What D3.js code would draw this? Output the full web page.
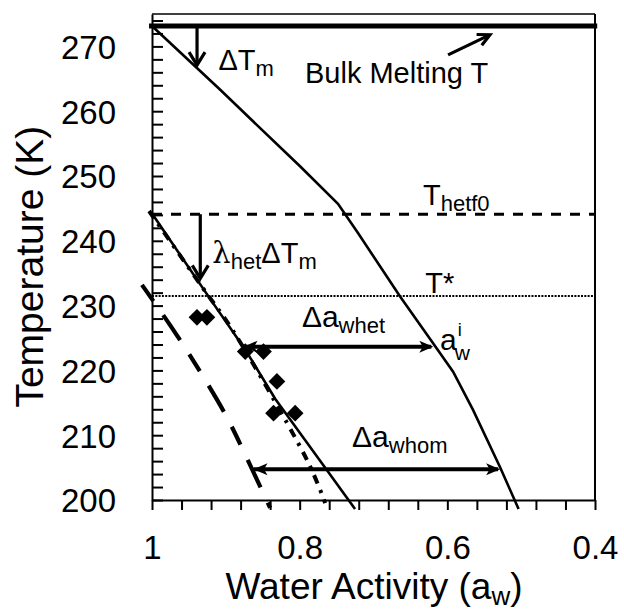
<!DOCTYPE html>
<html><head><meta charset="utf-8">
<script src="https://cdn.jsdelivr.net/npm/d3@7"></script>
<style>body{margin:0;background:#fff}</style>
</head><body>
<svg id="c" width="624" height="612" xmlns="http://www.w3.org/2000/svg"></svg>
<script>
// ---------- data ----------
const meltA = [1, 0.9076, 0.7995, 0.7481, 0.721, 0.664, 0.6193, 0.5922, 0.5652, 0.5287, 0.5035];
const meltT = [273.15, 263.3, 251.5, 245.7, 241.2, 231.4, 224.2, 219.8, 213.9, 205.1, 198.6];
const hetA = [1, 0.921, 0.8737, 0.833, 0.763, 0.725];
const hetT = [244.2, 231.0, 223.2, 215.6, 204.6, 198.6];
const lamA = [1.004, 0.9323, 0.8896, 0.7993, 0.7835, 0.7686, 0.7655];
const lamT = [244.6, 232.9, 226.0, 208.2, 204.6, 200.5, 199.5];
const homA = [1.0136, 0.9685, 0.9346, 0.8995, 0.871, 0.840];
const homT = [233.2, 225.8, 219.75, 212.96, 206.33, 198.77];
const obsA = [0.9391, 0.9256, 0.8737, 0.849, 0.8308, 0.8354, 0.8061];
const obsT = [228.2, 228.2, 222.9, 222.9, 218.3, 213.4, 213.4];
const bulkT = 273.15, hetf0T = 244.1, starT = 231.5;
const xTickVals = d3.range(0, 16).map(i => +(1 - i * 0.04).toFixed(2));
const yTickVals = d3.range(200, 275, 2);

// ---------- setup ----------
const svg = d3.select('#c');
svg.append('rect').attr('width', 624).attr('height', 612).attr('fill', '#fff');
const x = d3.scaleLinear().domain([1, 0.4]).range([152, 595]);
const y = d3.scaleLinear().domain([200, 275]).range([500, 14]);
const FONT = '"Liberation Sans", Arial, Helvetica, sans-serif';
svg.attr('font-family', FONT);

// frame (top & right)
svg.append('line').attr('x1', x(1)).attr('x2', x(0.4)).attr('y1', y(275)).attr('y2', y(275))
  .attr('stroke', '#000').attr('stroke-width', 1.5);
svg.append('line').attr('x1', x(0.4)).attr('x2', x(0.4)).attr('y1', y(275)).attr('y2', y(200))
  .attr('stroke', '#000').attr('stroke-width', 2);

// axes
const yAxis = d3.axisLeft(y).tickValues(yTickVals).tickSizeInner(-11).tickSizeOuter(0).tickPadding(36)
  .tickFormat(d => d % 10 === 0 ? d : '');
const gy = svg.append('g').attr('transform', `translate(${x(1)},0)`).call(yAxis);
const xAxis = d3.axisBottom(x).tickValues(xTickVals).tickSizeInner(10).tickSizeOuter(0).tickPadding(26)
  .tickFormat(d => { const r = Math.round(d * 10); return (Math.abs(d * 10 - r) < 1e-6 && r % 2 === 0) ? String(+d.toFixed(1)) : ''; });
const gx = svg.append('g').attr('transform', `translate(0,${y(200)})`).call(xAxis);
[gx, gy].forEach(g => {
  g.select('.domain').attr('stroke-width', 2);
  g.selectAll('.tick line').attr('stroke-width', 2);
  g.selectAll('.tick text').attr('font-size', 33).attr('font-family', FONT).attr('fill', '#000');
});
gy.selectAll('.tick text').attr('dy', '0.36em');

// axis titles
svg.append('text').attr('transform', `translate(43,${y(236)}) rotate(-90)`).attr('text-anchor', 'middle')
  .attr('font-size', 39).text('Temperature (K)');
const xt = svg.append('text').attr('x', 374).attr('y', 599).attr('text-anchor', 'middle').attr('font-size', 37);
xt.append('tspan').text('Water Activity (a');
xt.append('tspan').text('w').attr('font-size', 26).attr('dy', 6);
xt.append('tspan').text(')').attr('dy', -6);

// ---------- lines ----------
const line = d3.line().x(d => x(d[0])).y(d => y(d[1]));
const smooth = d3.line().x(d => x(d[0])).y(d => y(d[1])).curve(d3.curveCatmullRom);
const zip = (a, b) => a.map((v, i) => [v, b[i]]);
svg.append('path').attr('d', line(zip(meltA, meltT))).attr('fill', 'none').attr('stroke', '#000').attr('stroke-width', 2.6);
svg.append('path').attr('d', line(zip(hetA, hetT))).attr('fill', 'none').attr('stroke', '#000').attr('stroke-width', 2.6);
svg.append('path').attr('d', smooth(zip(lamA, lamT))).attr('fill', 'none').attr('stroke', '#000').attr('stroke-width', 4)
  .attr('stroke-dasharray', '9,7,3,7');
svg.append('path').attr('d', smooth(zip(homA, homT))).attr('fill', 'none').attr('stroke', '#000').attr('stroke-width', 4.2)
  .attr('stroke-dasharray', '20,17,30,17');

// horizontal reference lines
svg.append('line').attr('x1', x(1.004)).attr('x2', x(0.397)).attr('y1', y(bulkT)).attr('y2', y(bulkT))
  .attr('stroke', '#000').attr('stroke-width', 5);
svg.append('line').attr('x1', x(1)).attr('x2', x(0.4)).attr('y1', y(hetf0T)).attr('y2', y(hetf0T))
  .attr('stroke', '#000').attr('stroke-width', 3).attr('stroke-dasharray', '10,9');
svg.append('line').attr('x1', x(1)).attr('x2', x(0.4)).attr('y1', y(starT)).attr('y2', y(starT))
  .attr('stroke', '#000').attr('stroke-width', 2).attr('stroke-dasharray', '2,1.3');

// data diamonds
svg.append('g').selectAll('path').data(zip(obsA, obsT)).join('path')
  .attr('d', d3.symbol(d3.symbolSquare, 140))
  .attr('transform', d => `translate(${x(d[0])},${y(d[1])}) rotate(45)`)
  .attr('fill', '#000');

// ---------- arrows ----------
function head(tx, ty, ux, uy, L, W, filled) {
  const px = -uy, py = ux;
  const bx = tx - ux * L, by = ty - uy * L;
  if (filled) {
    const nx = tx - ux * L * 0.75, ny = ty - uy * L * 0.75;
    svg.append('path').attr('d', `M${tx},${ty}L${bx + px * W},${by + py * W}L${nx},${ny}L${bx - px * W},${by - py * W}Z`)
      .attr('fill', '#000');
  } else {
    svg.append('path').attr('d', `M${bx + px * W},${by + py * W}L${tx},${ty}L${bx - px * W},${by - py * W}`)
      .attr('fill', 'none').attr('stroke', '#000').attr('stroke-width', 3.2).attr('stroke-linecap', 'butt');
  }
}
function arrow(a1, t1, a2, t2, opts) {
  const x1 = x(a1), y1 = y(t1), x2 = x(a2), y2 = y(t2);
  const len = Math.hypot(x2 - x1, y2 - y1), ux = (x2 - x1) / len, uy = (y2 - y1) / len;
  svg.append('line').attr('x1', x1).attr('y1', y1).attr('x2', x2 - ux * 2).attr('y2', y2 - uy * 2)
    .attr('stroke', '#000').attr('stroke-width', opts.w);
  head(x2, y2, ux, uy, opts.L, opts.W, opts.filled);
  if (opts.both) head(x1, y1, -ux, -uy, opts.L, opts.W, opts.filled);
}
arrow(0.939, bulkT, 0.939, 267.1, {w: 3.2, L: 13, W: 8, filled: false});
arrow(0.9346, hetf0T, 0.9346, 234.2, {w: 3.2, L: 13, W: 8, filled: false});
arrow(0.599, 268.7, 0.5422, 271.8, {w: 3.2, L: 12, W: 6, filled: false});
arrow(0.876, 223.66, 0.619, 223.66, {w: 4, L: 14, W: 6, filled: true, both: true});
arrow(0.8625, 204.74, 0.5285, 204.74, {w: 4, L: 14, W: 6, filled: true, both: true});

// ---------- annotation text ----------
function rich(a, t, parts, size, subSize) {
  const txt = svg.append('text').attr('x', x(a)).attr('y', y(t)).attr('font-size', size);
  let shift = 0;
  parts.forEach(([s, k]) => {
    const target = k === 'sub' ? 6 : (k === 'sup' ? -12 : 0);
    const ts = txt.append('tspan').text(s).attr('dy', target - shift);
    if (k !== 'n') ts.attr('font-size', subSize);
    if (s === 'λ') ts.attr('font-family', '"DejaVu Serif", serif');
    shift = target;
  });
  return txt;
}
rich(0.910, 266.4, [['ΔT', 'n'], ['m', 'sub']], 29, 22);
rich(0.7928, 264.35, [['Bulk Melting T', 'n']], 29, 22);
rich(0.633, 245.5, [['T', 'n'], ['hetf0', 'sub']], 29, 22);
rich(0.630, 231.9, [['T*', 'n']], 29, 22);
rich(0.9183, 236.6, [['λ', 'n'], ['het', 'sub'], ['ΔT', 'n'], ['m', 'sub']], 29, 22);
rich(0.797, 226.7, [['Δa', 'n'], ['whet', 'sub']], 30, 22);
rich(0.729, 208.2, [['Δa', 'n'], ['whom', 'sub']], 30, 22);
// a^i_w
const aw = svg.append('text').attr('x', x(0.61)).attr('y', y(223.1)).attr('font-size', 30).text('a');
const awLen = aw.node().getComputedTextLength();
svg.append('text').attr('x', x(0.61) + awLen + 1).attr('y', y(223.1) - 14).attr('font-size', 18).text('i');
svg.append('text').attr('x', x(0.61) + awLen - 2).attr('y', y(223.1) + 10).attr('font-size', 21).text('w');
</script>
</body></html>
